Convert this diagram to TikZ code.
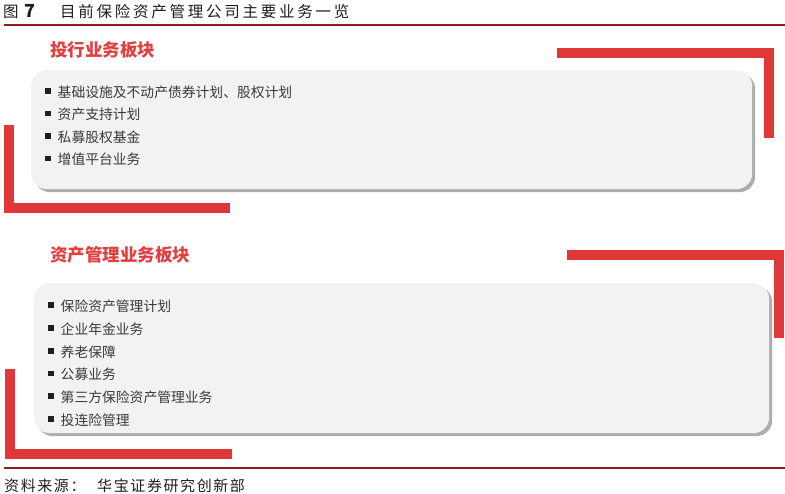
\documentclass[tikz,border=0pt]{standalone}
\usepackage{fontspec}
\setmainfont{Noto Sans CJK SC}
\usetikzlibrary{shadows}
\definecolor{barred}{RGB}{224,56,56}
\definecolor{headred}{RGB}{226,64,64}
\definecolor{rulered}{RGB}{140,30,30}
\definecolor{boxfill}{RGB}{242,241,244}
\definecolor{itemgray}{RGB}{58,58,58}
\definecolor{titlegray}{RGB}{30,30,30}
\newcommand\spcT[1]{\ifx#1\relax\else\makebox[18.25pt][l]{#1}\expandafter\spcT\fi}
\newcommand\spcS[1]{\ifx#1\relax\else\makebox[16.6pt][l]{#1}\expandafter\spcS\fi}
\newcommand\bul{{\color{titlegray}\rule[0.25em]{5.5pt}{5.5pt}}\hspace{7pt}}
\tikzset{
  panel/.style={draw=none, fill=boxfill, rounded corners=16pt, anchor=north west, inner sep=0pt,
    drop shadow={shadow xshift=3pt, shadow yshift=-3pt, fill=black!40, opacity=0.8}},
  redbar/.style={draw=barred, line width=10pt, line join=miter, line cap=butt},
  heading/.style={anchor=west, inner sep=0pt, text=headred, font=\fontsize{17.5}{20}\selectfont\bfseries},
  item/.style={anchor=west, inner sep=0pt, text=itemgray, font=\fontsize{13.8}{16}\selectfont},
  plain/.style={anchor=west, inner sep=0pt, text=titlegray, font=\fontsize{15.5}{18}\selectfont},
  rulebar/.style={draw=rulered, line width=2pt}
}
\begin{document}
\begin{tikzpicture}[x=1pt,y=-1pt]
\useasboundingbox (0,0) rectangle (785,494);
% title
\node[plain] (fig) at (3,12) {图\hspace{6pt}{\fontsize{18}{20}\selectfont\bfseries 7}};
\node[plain] (title) at (60,12) {\spcT 目前保险资产管理公司主要业务一览\relax};
\coordinate (r1a) at (4,25);
\coordinate (r1b) at (785,25);
\draw[rulebar] (r1a) -- (r1b);
% section 1
\coordinate (b1a) at (557,53.5);
\coordinate (b1b) at (769,53.5);
\coordinate (b1c) at (769,138);
\draw[redbar] (b1a) -- (b1b) -- (b1c);
\coordinate (b2a) at (8.5,125);
\coordinate (b2b) at (8.5,208.5);
\coordinate (b2c) at (230,208.5);
\draw[redbar] (b2a) -- (b2b) -- (b2c);
\node[panel, minimum width=721pt, minimum height=119pt] (box1) at (31,70) {};
\node[heading] (h1) at (50,50) {投行业务板块};
\node[item] (i11) at (45,92) {\bul 基础设施及不动产债券计划、股权计划};
\node[item] (i12) at (45,114.5) {\bul 资产支持计划};
\node[item] (i13) at (45,137) {\bul 私募股权基金};
\node[item] (i14) at (45,159.5) {\bul 增值平台业务};
% section 2
\coordinate (c1a) at (567,255.5);
\coordinate (c1b) at (779,255.5);
\coordinate (c1c) at (779,338);
\draw[redbar] (c1a) -- (c1b) -- (c1c);
\coordinate (c2a) at (10,369);
\coordinate (c2b) at (10,454);
\coordinate (c2c) at (232,454);
\draw[redbar] (c2a) -- (c2b) -- (c2c);
\node[panel, minimum width=735pt, minimum height=150pt] (box2) at (34,283) {};
\node[heading] (h2) at (50,255) {资产管理业务板块};
\node[item] (i21) at (48,306) {\bul 保险资产管理计划};
\node[item] (i22) at (48,329) {\bul 企业年金业务};
\node[item] (i23) at (48,352) {\bul 养老保障};
\node[item] (i24) at (48,374.5) {\bul 公募业务};
\node[item] (i25) at (48,397) {\bul 第三方保险资产管理业务};
\node[item] (i26) at (48,420) {\bul 投连险管理};
% footer
\coordinate (r2a) at (4,468);
\coordinate (r2b) at (785,468);
\draw[rulebar] (r2a) -- (r2b);
\node[plain, font=\fontsize{15}{18}\selectfont] (src1) at (4,486) {\spcS 资料来源：\relax};
\node[plain, font=\fontsize{15}{18}\selectfont] (src2) at (97,486) {\spcS 华宝证券研究创新部\relax};
\end{tikzpicture}
\end{document}
